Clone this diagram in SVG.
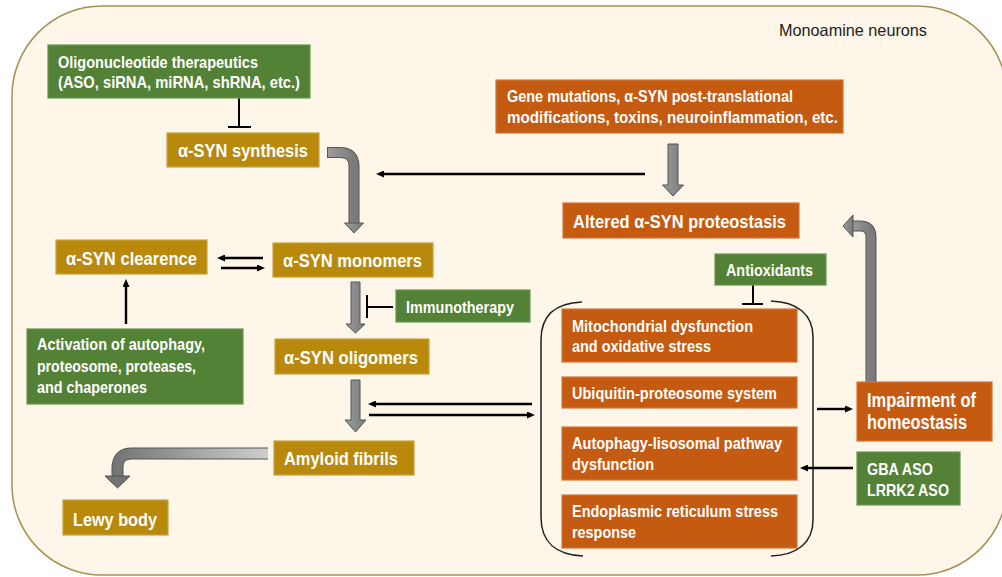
<svg xmlns="http://www.w3.org/2000/svg" width="1002" height="577" viewBox="0 0 1002 577">
<style>
.bx{stroke-width:1.2}
.gold{fill:#B8890B;stroke:#C9A23C}
.org{fill:#C55A11;stroke:#D4763A}
.grn{fill:#538135;stroke:#6A9450}
.t{font-family:"Liberation Sans",Arial,sans-serif;font-weight:bold;fill:#fff}
.s17{font-size:18.5px}
.s16{font-size:16.5px}
.s15{font-size:16.5px}
.s18{font-size:19.5px}
.ln{stroke:#000;stroke-width:2.4;fill:none}
.inh{stroke:#000;stroke-width:2;fill:none}
.ga{fill:url(#gv);stroke:#555;stroke-width:1}
.br{stroke:#222;stroke-width:1.5;fill:none}
</style>
<defs>
<marker id="ah" viewBox="0 0 8 7" refX="1" refY="3.5" markerWidth="8" markerHeight="7" orient="auto" markerUnits="userSpaceOnUse">
<path d="M0,0 L8,3.5 L0,7 z" fill="#000"/>
</marker>
<linearGradient id="gv" x1="0" y1="0" x2="1" y2="0">
<stop offset="0" stop-color="#9c9c9c"/>
<stop offset="1" stop-color="#7a7a7a"/>
</linearGradient>
<linearGradient id="gh" gradientUnits="userSpaceOnUse" x1="268" y1="0" x2="105" y2="0">
<stop offset="0" stop-color="#cfcfcf"/>
<stop offset="1" stop-color="#6e6e6e"/>
</linearGradient>
</defs>
<rect id="neuron" x="12" y="6" width="995" height="569" rx="90" ry="90" fill="#FDF6E9" stroke="#A89050" stroke-width="1.5"/>
<text x="779" y="36" font-family="Liberation Sans,Arial,sans-serif" font-size="16.5" fill="#222" textLength="148" lengthAdjust="spacingAndGlyphs">Monoamine neurons</text>

<g id="connectors">
<path class="inh" d="M239 98 V127 M228 127 H251"/>
<path d="M327 152.5 H340 Q354 152.5 354 166.5 V224" stroke="#555" stroke-width="11" fill="none"/>
<path d="M328 152.5 H340 Q354 152.5 354 166.5 V224" stroke="url(#gv)" stroke-width="9" fill="none"/>
<polygon class="ga" points="344.5,223 363.5,223 354,233"/>
<line class="ln" x1="645" y1="174" x2="383" y2="174" marker-end="url(#ah)"/>
<polygon class="ga" points="668,144 678,144 678,185 683.5,185 673,196 662.5,185 668,185"/>
<line class="ln" x1="263" y1="258" x2="224" y2="258" marker-end="url(#ah)"/>
<line class="ln" x1="221" y1="268" x2="258" y2="268" marker-end="url(#ah)"/>
<line class="ln" x1="126" y1="324" x2="126" y2="286" marker-end="url(#ah)"/>
<polygon class="ga" points="351,282 360,282 360,324 365,324 355.5,333 346,324 351,324"/>
<path class="inh" d="M393 307 H367 M367 295 V318"/>
<polygon class="ga" points="351,380 360,380 360,420 366,420 355.5,432 345,420 351,420"/>
<line class="ln" x1="532" y1="404" x2="375" y2="404" marker-end="url(#ah)"/>
<line class="ln" x1="369" y1="415" x2="528" y2="415" marker-end="url(#ah)"/>
<path d="M268 453.5 H132 Q117.5 453.5 117.5 468 V477" stroke="#555" stroke-width="12" fill="none"/>
<path d="M268 453.5 H132 Q117.5 453.5 117.5 468 V477" stroke="url(#gh)" stroke-width="10" fill="none"/>
<polygon points="105,476 130,476 117.5,488" fill="#737373" stroke="#555" stroke-width="1"/>
<path class="inh" d="M753 285 V304 M742 304 H763"/>
<path class="br" d="M582 302 C556 303 541 315 541 340 V517 C541 542 556 555 583 556"/>
<path class="br" d="M771 301 C797 302 813 314 813 337 V520 C813 543 797 555 771 556"/>
<line class="ln" x1="817" y1="409" x2="846" y2="409" marker-end="url(#ah)"/>
<path d="M871 383 V237 Q871 226 860 226 H852" stroke="#555" stroke-width="11" fill="none"/>
<path d="M871 382 V237 Q871 226 860 226 H852" stroke="url(#gv)" stroke-width="9" fill="none"/>
<polygon class="ga" points="853,215 853,237 843,226"/>
<line class="ln" x1="853" y1="468" x2="807" y2="468" marker-end="url(#ah)"/>
</g>

<g id="oligonucleotide">
<rect class="bx grn" x="48" y="45" width="262" height="53"/>
<text class="t s15" x="58" y="68" textLength="200" lengthAdjust="spacingAndGlyphs">Oligonucleotide therapeutics</text>
<text class="t s15" x="58" y="88" textLength="242" lengthAdjust="spacingAndGlyphs">(ASO, siRNA, miRNA, shRNA, etc.)</text>
</g>
<g id="synthesis">
<rect class="bx gold" x="167" y="133" width="152" height="34"/>
<text class="t s17" x="178" y="157" textLength="130" lengthAdjust="spacingAndGlyphs">α-SYN synthesis</text>
</g>
<g id="gene">
<rect class="bx org" x="496" y="80" width="347" height="53"/>
<text class="t s15" x="507" y="102" textLength="286" lengthAdjust="spacingAndGlyphs">Gene mutations, α-SYN post-translational</text>
<text class="t s15" x="507" y="123" textLength="331" lengthAdjust="spacingAndGlyphs">modifications, toxins, neuroinflammation, etc.</text>
</g>
<g id="altered">
<rect class="bx org" x="563" y="203" width="236" height="35"/>
<text class="t s17" x="573" y="228" textLength="213" lengthAdjust="spacingAndGlyphs">Altered α-SYN proteostasis</text>
</g>
<g id="clearence">
<rect class="bx gold" x="56" y="240" width="151" height="34"/>
<text class="t s17" x="66" y="265" textLength="131" lengthAdjust="spacingAndGlyphs">α-SYN clearence</text>
</g>
<g id="monomers">
<rect class="bx gold" x="273" y="243" width="160" height="34"/>
<text class="t s17" x="283" y="267" textLength="139" lengthAdjust="spacingAndGlyphs">α-SYN monomers</text>
</g>
<g id="immunotherapy">
<rect class="bx grn" x="396" y="290" width="134" height="32"/>
<text class="t s16" x="406" y="313" textLength="108" lengthAdjust="spacingAndGlyphs">Immunotherapy</text>
</g>
<g id="activation">
<rect class="bx grn" x="27" y="329" width="216" height="75"/>
<text class="t s16" x="37" y="350" textLength="168" lengthAdjust="spacingAndGlyphs">Activation of autophagy,</text>
<text class="t s16" x="37" y="372" textLength="159" lengthAdjust="spacingAndGlyphs">proteosome, proteases,</text>
<text class="t s16" x="37" y="393" textLength="110" lengthAdjust="spacingAndGlyphs">and chaperones</text>
</g>
<g id="oligomers">
<rect class="bx gold" x="275" y="339" width="154" height="35"/>
<text class="t s17" x="284" y="364" textLength="134" lengthAdjust="spacingAndGlyphs">α-SYN oligomers</text>
</g>
<g id="amyloid">
<rect class="bx gold" x="274" y="441" width="140" height="34"/>
<text class="t s17" x="284" y="465" textLength="114" lengthAdjust="spacingAndGlyphs">Amyloid fibrils</text>
</g>
<g id="lewy">
<rect class="bx gold" x="63" y="500" width="105" height="35"/>
<text class="t s17" x="73" y="526" textLength="84" lengthAdjust="spacingAndGlyphs">Lewy body</text>
</g>
<g id="antioxidants">
<rect class="bx grn" x="715" y="254" width="111" height="31"/>
<text class="t s16" x="726" y="276" textLength="87" lengthAdjust="spacingAndGlyphs">Antioxidants</text>
</g>
<g id="mitochondrial">
<rect class="bx org" x="562" y="309" width="235" height="53"/>
<text class="t s16" x="572" y="332" textLength="181" lengthAdjust="spacingAndGlyphs">Mitochondrial dysfunction</text>
<text class="t s16" x="572" y="352" textLength="139" lengthAdjust="spacingAndGlyphs">and oxidative stress</text>
</g>
<g id="ubiquitin">
<rect class="bx org" x="562" y="377" width="235" height="31"/>
<text class="t s16" x="572" y="399" textLength="205" lengthAdjust="spacingAndGlyphs">Ubiquitin-proteosome system</text>
</g>
<g id="autophagy">
<rect class="bx org" x="562" y="427" width="235" height="53"/>
<text class="t s16" x="572" y="449" textLength="210" lengthAdjust="spacingAndGlyphs">Autophagy-lisosomal pathway</text>
<text class="t s16" x="572" y="470" textLength="82" lengthAdjust="spacingAndGlyphs">dysfunction</text>
</g>
<g id="er">
<rect class="bx org" x="562" y="495" width="235" height="53"/>
<text class="t s16" x="572" y="517" textLength="206" lengthAdjust="spacingAndGlyphs">Endoplasmic reticulum stress</text>
<text class="t s16" x="572" y="538" textLength="64" lengthAdjust="spacingAndGlyphs">response</text>
</g>
<g id="impairment">
<rect class="bx org" x="857" y="382" width="135" height="59"/>
<text class="t s18" x="867" y="407" textLength="109" lengthAdjust="spacingAndGlyphs">Impairment of</text>
<text class="t s18" x="867" y="429" textLength="100" lengthAdjust="spacingAndGlyphs">homeostasis</text>
</g>
<g id="gba">
<rect class="bx grn" x="857" y="452" width="103" height="53"/>
<text class="t s16" x="867" y="475" textLength="66" lengthAdjust="spacingAndGlyphs">GBA ASO</text>
<text class="t s16" x="867" y="496" textLength="82" lengthAdjust="spacingAndGlyphs">LRRK2 ASO</text>
</g>
</svg>
